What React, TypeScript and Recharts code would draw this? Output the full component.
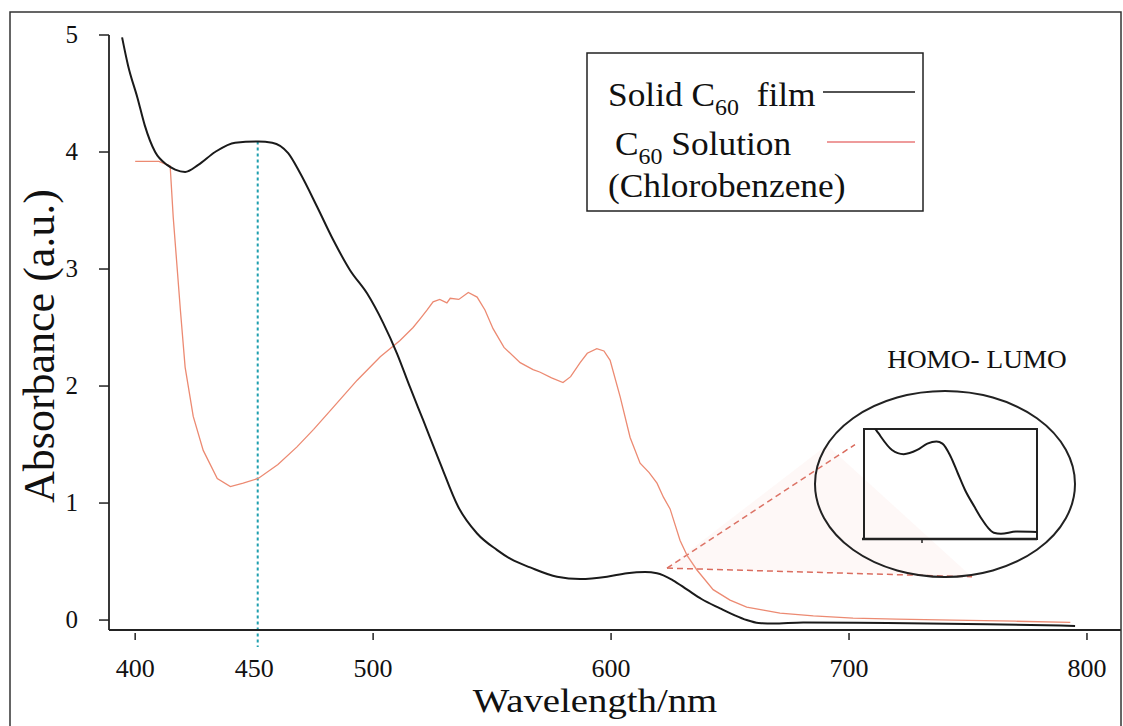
import { LineChart, Line, XAxis, YAxis, ReferenceLine } from "recharts";

// solid C60 film (black)
const filmWavelength = [
  394.5, 397, 401, 404, 408.4, 413.4, 416.8, 421, 426.5, 433.6, 442, 451.7, 457.6, 464.3, 469.3,
  476.5, 483.2, 490.3, 497.5, 504.2, 510, 515.5, 521, 528.2, 535.7, 543.7, 552, 558, 566, 577.3,
  587, 598.3, 606.7, 614.3, 619.3, 626, 632, 638, 645.8, 652, 657, 662, 668, 680.7, 716, 758, 795,
];
const filmAbsorbance = [
  4.98, 4.74, 4.46, 4.23, 4.0, 3.89, 3.85, 3.83, 3.89, 4.0, 4.08, 4.09, 4.08, 3.99, 3.82,
  3.53, 3.25, 2.99, 2.79, 2.54, 2.28, 1.99, 1.71, 1.34, 0.97, 0.74, 0.6, 0.52, 0.45, 0.37,
  0.35, 0.37, 0.4, 0.41, 0.4, 0.34, 0.26, 0.18, 0.1, 0.04, 0.0, -0.025, -0.03, -0.02, -0.025, -0.035, -0.05,
];

// C60 in chlorobenzene (red)
const solutionWavelength = [
  400, 405, 410, 414.7, 416, 417.6, 419, 421, 424.4, 428.6, 434.5, 440, 445.4, 451.7, 460, 468,
  475, 482, 493.3, 503, 511.3, 516.8, 520, 522.7, 525.2, 528, 531, 532.4, 536, 540, 543.7, 547,
  550.4, 555, 561.8, 567.2, 570, 575, 579.8, 583, 587, 590, 594, 597, 599.6, 603.8, 608, 612.2,
  616, 619.3, 622, 624.8, 629, 632, 636, 642.9, 650, 657, 664, 671, 685, 701.7, 720, 743.7, 770, 793,
];
const solutionAbsorbance = [
  3.92, 3.92, 3.92, 3.88, 3.44, 3.02, 2.65, 2.16, 1.74, 1.45, 1.21, 1.14, 1.17, 1.21, 1.33, 1.48,
  1.63, 1.79, 2.05, 2.25, 2.39, 2.5, 2.58, 2.65, 2.72, 2.74, 2.71, 2.75, 2.74, 2.8, 2.76, 2.65,
  2.49, 2.33, 2.2, 2.14, 2.12, 2.07, 2.03, 2.08, 2.2, 2.28, 2.32, 2.3, 2.22, 1.91, 1.56, 1.34,
  1.26, 1.17, 1.05, 0.95, 0.68, 0.55, 0.43, 0.26, 0.17, 0.11, 0.085, 0.06, 0.035, 0.017, 0.008, 0.0, -0.01, -0.02,
];

const xTicks = [400, 450, 500, 600, 700, 800];
const yTicks = [0, 1, 2, 3, 4, 5];

const filmData = filmWavelength.map((wl, i) => ({ wl, abs: filmAbsorbance[i] }));
const solutionData = solutionWavelength.map((wl, i) => ({ wl, abs: solutionAbsorbance[i] }));

const W = 1123;
const H = 726;
const LEFT = 109;
const TOP = 35;
const AXIS_Y = 630;
const SERIF = "Liberation Serif, Times New Roman, serif";
const INK = "#222";

function XTick(props: any) {
  const { x, payload } = props;
  return (
    <g>
      {payload.value !== 450 && (
        <line x1={x} x2={x} y1={AXIS_Y + 3} y2={AXIS_Y + 10} stroke={INK} strokeWidth={1.5} />
      )}
      <text x={x} y={AXIS_Y + 47} textAnchor="middle" fontSize={26} fontFamily={SERIF} fill="#111">
        {payload.value}
      </text>
    </g>
  );
}

function YTick(props: any) {
  const { y, payload } = props;
  return (
    <g>
      <line x1={LEFT - 10} x2={LEFT} y1={y} y2={y} stroke={INK} strokeWidth={1.5} />
      <text x={78} y={y + 8} textAnchor="end" fontSize={25} fontFamily={SERIF} fill="#111">
        {payload.value}
      </text>
    </g>
  );
}

function Inset() {
  return (
    <div style={{ position: "fixed", left: 864, top: 429 }}>
      <LineChart width={173} height={111} data={filmData} margin={{ top: 0, right: 0, left: 0, bottom: 0 }}>
        <XAxis dataKey="wl" type="number" domain={[554, 698]} allowDataOverflow hide />
        <YAxis type="number" domain={[-0.06, 0.47]} allowDataOverflow hide />
        <Line
          type="monotone"
          dataKey="abs"
          stroke="#1a1a1a"
          strokeWidth={2}
          dot={false}
          isAnimationActive={false}
        />
      </LineChart>
    </div>
  );
}

export default function App() {
  return (
    <div style={{ position: "fixed", left: 0, top: 0, width: W, height: H, background: "#fff" }}>
      <LineChart
        width={W}
        height={H}
        margin={{ top: TOP, right: 2, left: LEFT - 1, bottom: H - AXIS_Y - 1 }}
      >
        <XAxis
          dataKey="wl"
          type="number"
          domain={[389, 814.3]}
          ticks={xTicks}
          interval={0}
          height={1}
          tickLine={false}
          tick={<XTick />}
          axisLine={{ stroke: INK, strokeWidth: 1.8 }}
          allowDataOverflow
        />
        <YAxis
          type="number"
          domain={[-0.085, 5]}
          ticks={yTicks}
          interval={0}
          width={1}
          tickLine={false}
          tick={<YTick />}
          axisLine={{ stroke: INK, strokeWidth: 1.8 }}
          allowDataOverflow
        />
        <ReferenceLine
          segment={[{ x: 451.5, y: 4.09 }, { x: 451.5, y: -0.23 }]}
          stroke="#1f9fae"
          strokeWidth={2}
          strokeDasharray="3 3"
          ifOverflow="visible"
        />
        <ReferenceLine
          segment={[{ x: 623.5, y: 0.444 }, { x: 702.5, y: 1.5 }]}
          stroke="#d9685a"
          strokeWidth={1.5}
          strokeDasharray="6 4"
        />
        <ReferenceLine
          segment={[{ x: 623.5, y: 0.444 }, { x: 751.7, y: 0.37 }]}
          stroke="#d9685a"
          strokeWidth={1.5}
          strokeDasharray="6 4"
        />
        <Line
          data={solutionData}
          dataKey="abs"
          stroke="#ec8a72"
          strokeWidth={1.3}
          dot={false}
          isAnimationActive={false}
        />
        <Line
          type="monotone"
          data={filmData}
          dataKey="abs"
          stroke="#1a1a1a"
          strokeWidth={2}
          dot={false}
          isAnimationActive={false}
        />
      </LineChart>

      <svg
        width={W}
        height={H}
        style={{ position: "fixed", left: 0, top: 0, pointerEvents: "none" }}
        fontFamily={SERIF}
      >
        <rect x={10} y={12} width={1111} height={730} fill="none" stroke="#333" strokeWidth={1.5} />
        <polygon points="667,568 827,445 972,577" fill="#f4c7bf" opacity={0.12} />

        <text transform="translate(54,346) rotate(-90)" textAnchor="middle" fontSize={44} fill="#111">
          Absorbance (a.u.)
        </text>
        <text transform="translate(595,712) scale(1.14,1)" textAnchor="middle" fontSize={34} fill="#111">
          Wavelength/nm
        </text>

        <rect x={587} y={53} width={336} height={158} fill="#fff" stroke={INK} strokeWidth={1.5} />
        <text transform="translate(608,106) scale(1.04,1)" fontSize={34} fill="#111">
          Solid C
          <tspan fontSize={23} dy={9}>60</tspan>
          <tspan dy={-9}>{"\u00a0\u00a0film"}</tspan>
        </text>
        <line x1={823} x2={915} y1={92} y2={92} stroke="#1a1a1a" strokeWidth={1.5} />
        <text transform="translate(615,155) scale(1.04,1)" fontSize={34} fill="#111">
          C<tspan fontSize={23} dy={9}>60</tspan>
          <tspan dy={-9}>{"\u00a0Solution"}</tspan>
        </text>
        <line x1={827} x2={915} y1={142} y2={142} stroke="#e87a7a" strokeWidth={1.5} />
        <text transform="translate(608,197) scale(1.04,1)" fontSize={34} fill="#111">
          (Chlorobenzene)
        </text>

        <text transform="translate(977,368) scale(1.05,1)" textAnchor="middle" fontSize={26} fill="#111">
          HOMO- LUMO
        </text>
        <ellipse cx={945} cy={484} rx={130} ry={93} fill="none" stroke={INK} strokeWidth={2} />
        <rect x={864} y={429} width={173} height={110} fill="none" stroke={INK} strokeWidth={2} />
        <line x1={862} x2={1037} y1={539} y2={539} stroke={INK} strokeWidth={2.5} />
        <line x1={922} x2={922} y1={539} y2={543} stroke={INK} strokeWidth={1.5} />
      </svg>
      <Inset />
    </div>
  );
}
